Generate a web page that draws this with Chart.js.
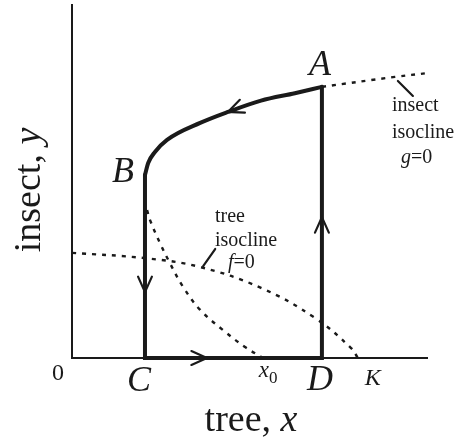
<!DOCTYPE html>
<html lang="en">
<head>
<meta charset="UTF-8">
<title>Tree–insect phase plane</title>
<script src="https://cdn.jsdelivr.net/npm/chart.js"></script>
<style>
  html, body { margin: 0; padding: 0; background: #fff; }
  #wrap { width: 455px; height: 439px; }
</style>
</head>
<body>
<div id="wrap"><canvas id="phase" width="455" height="439"></canvas></div>
<script>
// corners of the relaxation cycle (tree x, insect y)
const pointA = [7.02, 7.66];
const pointB = [2.05, 5.17];
const pointC = [2.05, 0];
const pointD = [7.02, 0];
const x0 = 5.37;
const K = 8.03;

// slow path between B and A along the insect isocline
const curveX = [2.05, 2.14, 2.33, 2.67, 3.60, 4.38, 5.31, 6.26, 7.02];
const curveY = [5.17, 5.51, 5.82, 6.16, 6.64, 6.95, 7.27, 7.48, 7.66];

// insect isocline g=0 (right of A)
const insectX = [7.02, 9.07, 10];
const insectY = [7.66, 7.94, 8.05];

// tree isocline f=0, from the y axis down to K
const treeX = [0, 2.05, 3.60, 5.31, 6.83, 7.84, 8.03];
const treeY = [2.97, 2.82, 2.57, 1.98, 1.13, 0.28, 0];

// other branch of f=0, meeting the axis at x0
const branchX = [2.11, 2.19, 2.47, 2.75, 3.12, 3.60, 4.24, 4.86, 5.37];
const branchY = [4.18, 3.90, 3.25, 2.68, 2.01, 1.36, 0.79, 0.31, 0];

// direction arrows: tip and a point the arrow heads toward
const arrows = [
  { tip: [4.38, 6.95], toward: [3.60, 6.64] },
  { tip: [2.05, 1.86], toward: [2.05, 0] },
  { tip: [3.79, 0], toward: [7.02, 0] },
  { tip: [7.02, 3.98], toward: [7.02, 7.66] }
];

const zip = (xs, ys) => xs.map((x, i) => ({ x, y: ys[i] }));
const ink = '#1a1a1a';
const serif = '"Liberation Serif", "Times New Roman", serif';

const dotted = {
  showLine: true, borderColor: ink, borderWidth: 2.4, borderDash: [4, 6],
  pointRadius: 0, tension: 0.4, clip: false
};

function runs(ctx, parts, x, y, align) {
  let total = 0;
  parts.forEach(p => { ctx.font = p.font; p.w = ctx.measureText(p.t).width; total += p.w; });
  let cx = align === 'center' ? x - total / 2 : x;
  ctx.textAlign = 'left';
  ctx.textBaseline = 'alphabetic';
  parts.forEach(p => {
    ctx.font = p.font;
    ctx.fillText(p.t, cx, y + (p.dy || 0));
    cx += p.w;
  });
}

const extras = {
  id: 'phaseExtras',
  beforeDatasetsDraw(chart) {
    const { ctx, chartArea: a } = chart;
    ctx.save();
    ctx.strokeStyle = ink;
    ctx.lineWidth = 2;
    ctx.beginPath();
    ctx.moveTo(a.left, a.top);
    ctx.lineTo(a.left, a.bottom);
    ctx.lineTo(a.right, a.bottom);
    ctx.stroke();
    ctx.restore();
  },
  afterDatasetsDraw(chart) {
    const { ctx, scales: { x: sx, y: sy } } = chart;
    const px = p => [sx.getPixelForValue(p[0]), sy.getPixelForValue(p[1])];

    // open chevron heads
    ctx.save();
    ctx.strokeStyle = ink;
    ctx.lineWidth = 2.2;
    ctx.lineCap = 'round';
    arrows.forEach(ar => {
      const [tx, ty] = px(ar.tip);
      const [wx, wy] = px(ar.toward);
      const ang = Math.atan2(wy - ty, wx - tx);
      const len = 17, spread = 0.42;
      ctx.beginPath();
      ctx.moveTo(tx - len * Math.cos(ang - spread), ty - len * Math.sin(ang - spread));
      ctx.lineTo(tx, ty);
      ctx.lineTo(tx - len * Math.cos(ang + spread), ty - len * Math.sin(ang + spread));
      ctx.stroke();
    });

    // leader lines to the isocline notes
    const [ix, iy] = px([9.07, 7.94]);
    ctx.beginPath();
    ctx.moveTo(ix + 3, iy + 4);
    ctx.lineTo(ix + 18, iy + 19);
    ctx.stroke();
    const [fx, fy] = px([3.60, 2.57]);
    ctx.beginPath();
    ctx.moveTo(fx + 3, fy - 1);
    ctx.lineTo(fx + 15, fy - 18);
    ctx.stroke();
    ctx.restore();

    ctx.save();
    ctx.fillStyle = ink;
    const big = 'italic 36px ' + serif;
    const [ax, ay] = px(pointA);
    runs(ctx, [{ t: 'A', font: big }], ax - 2, ay - 12, 'center');
    const [bx, by] = px(pointB);
    runs(ctx, [{ t: 'B', font: big }], bx - 22, by + 7, 'center');
    const [cx, cy] = px(pointC);
    runs(ctx, [{ t: 'C', font: big }], cx - 6, cy + 33, 'center');
    const [dx, dy] = px(pointD);
    runs(ctx, [{ t: 'D', font: big }], dx - 2, dy + 32, 'center');
    const [kx, ky] = px([K, 0]);
    runs(ctx, [{ t: 'K', font: 'italic 24px ' + serif }], kx + 15, ky + 27, 'center');
    const [zx, zy] = px([x0, 0]);
    runs(ctx, [{ t: 'x', font: 'italic 23px ' + serif }, { t: '0', font: '17px ' + serif, dy: 6 }], zx + 5, zy + 19, 'center');
    const [ox, oy] = px([0, 0]);
    runs(ctx, [{ t: '0', font: '24px ' + serif }], ox - 14, oy + 22, 'center');

    // isocline notes
    const small = '20px ' + serif;
    const smallIt = 'italic 20px ' + serif;
    runs(ctx, [{ t: 'insect', font: small }], 392, 111, 'left');
    runs(ctx, [{ t: 'isocline', font: small }], 392, 138, 'left');
    runs(ctx, [{ t: 'g', font: smallIt }, { t: '=0', font: small }], 401, 163, 'left');
    runs(ctx, [{ t: 'tree', font: small }], 215, 222, 'left');
    runs(ctx, [{ t: 'isocline', font: small }], 215, 246, 'left');
    runs(ctx, [{ t: 'f', font: smallIt }, { t: '=0', font: small }], 228, 268, 'left');

    // axis titles
    const title = '38px ' + serif;
    const titleIt = 'italic 38px ' + serif;
    runs(ctx, [{ t: 'tree, ', font: title }, { t: 'x', font: titleIt }], 251, 431, 'center');
    ctx.translate(40, 190);
    ctx.rotate(-Math.PI / 2);
    runs(ctx, [{ t: 'insect, ', font: title }, { t: 'y', font: titleIt }], 0, 0, 'center');
    ctx.restore();
  }
};

new Chart(document.getElementById('phase'), {
  type: 'scatter',
  data: {
    datasets: [
      { ...dotted, data: zip(insectX, insectY) },
      { ...dotted, data: zip(treeX, treeY) },
      { ...dotted, data: zip(branchX, branchY) },
      {
        showLine: true, borderColor: ink, borderWidth: 4, pointRadius: 0,
        cubicInterpolationMode: 'monotone', clip: false, borderCapStyle: 'round',
        data: zip(curveX, curveY)
      },
      {
        showLine: true, borderColor: ink, borderWidth: 4, pointRadius: 0,
        tension: 0, clip: false, borderJoinStyle: 'miter', borderCapStyle: 'round',
        data: [pointB, pointC, pointD, pointA].map(p => ({ x: p[0], y: p[1] }))
      }
    ]
  },
  options: {
    responsive: false,
    animation: false,
    devicePixelRatio: 1,
    layout: { padding: { left: 72, right: 27, top: 4, bottom: 81 } },
    plugins: { legend: { display: false }, tooltip: { enabled: false } },
    scales: {
      x: { type: 'linear', min: 0, max: 10, display: false },
      y: { type: 'linear', min: 0, max: 10, display: false }
    }
  },
  plugins: [extras]
});
</script>
</body>
</html>
